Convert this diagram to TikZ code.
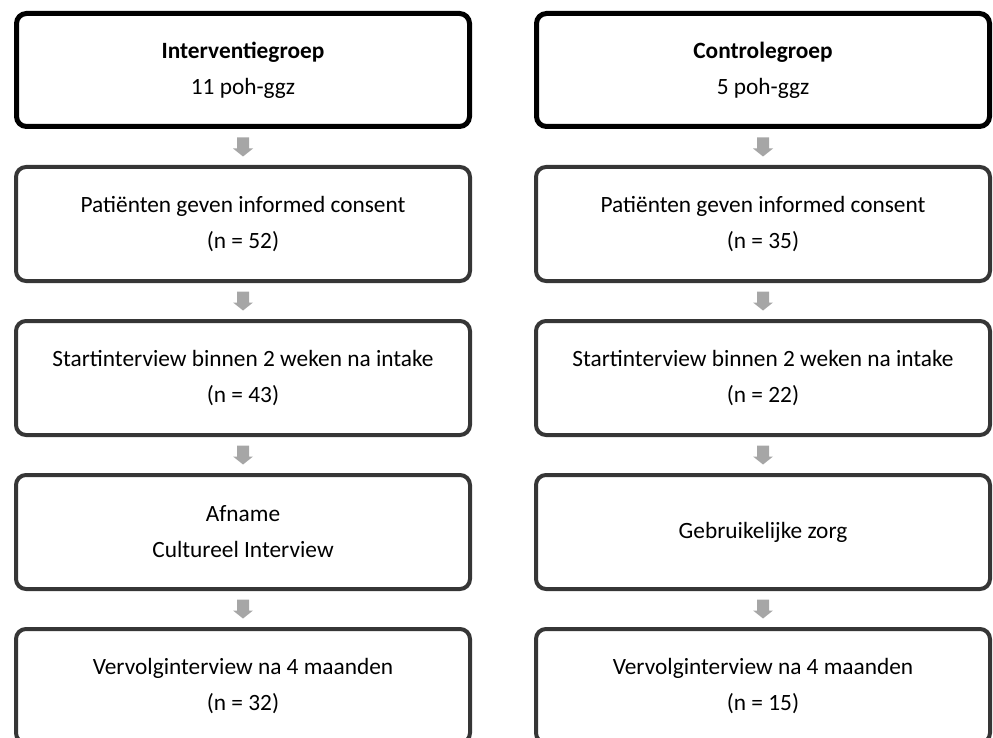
\documentclass[tikz,border=0pt]{standalone}
\usepackage{fontspec}
\setmainfont{Carlito}
\usetikzlibrary{calc}
\definecolor{boxgray}{HTML}{363636}
\definecolor{arrowgray}{HTML}{A6A6A6}
\tikzset{
  headbox/.style={draw=black, line width=3.75pt, rounded corners=7.5pt, fill=white,
    minimum width=339.75pt, minimum height=84.75pt, align=center, inner sep=0pt,
    font=\fontsize{17.5}{27}\selectfont},
  stepbox/.style={draw=boxgray, line width=3pt, rounded corners=7.5pt, fill=white,
    minimum width=340.5pt, minimum height=85.5pt, align=center, inner sep=0pt,
    font=\fontsize{17.5}{27}\selectfont},
}
\newcommand{\blockarrow}[2]{%
  \path (#1.south) -- (#2.north) coordinate[pos=0.5] (m#1);
  \fill[arrowgray] ($(m#1)+(-6,-9.5)$) -- ($(m#1)+(6,-9.5)$) -- ($(m#1)+(6,1.5)$)
    -- ($(m#1)+(10,1.5)$) -- ($(m#1)+(0,9.5)$) -- ($(m#1)+(-10,1.5)$)
    -- ($(m#1)+(-6,1.5)$) -- cycle;}
\begin{document}
\begin{tikzpicture}[x=0.75pt,y=-0.75pt]
\useasboundingbox (0,0) rectangle (993,738);
\clip (0,0) rectangle (993,738);
% left column
\node[headbox] (l1) at (243,70) {\textbf{Interventiegroep}\\11 poh-ggz};
\node[stepbox] (l2) at (243,224) {Patiënten geven informed consent\\(n = 52)};
\node[stepbox] (l3) at (243,378) {Startinterview binnen 2 weken na intake\\(n = 43)};
\node[stepbox] (l4) at (243,532) {Afname\\Cultureel Interview};
\node[stepbox] (l5) at (243,686) {Vervolginterview na 4 maanden\\(n = 32)};
% right column
\node[headbox] (r1) at (763,70) {\textbf{Controlegroep}\\5 poh-ggz};
\node[stepbox] (r2) at (763,224) {Patiënten geven informed consent\\(n = 35)};
\node[stepbox] (r3) at (763,378) {Startinterview binnen 2 weken na intake\\(n = 22)};
\node[stepbox] (r4) at (763,532) {Gebruikelijke zorg};
\node[stepbox] (r5) at (763,686) {Vervolginterview na 4 maanden\\(n = 15)};
% arrows
\blockarrow{l1}{l2}
\blockarrow{l2}{l3}
\blockarrow{l3}{l4}
\blockarrow{l4}{l5}
\blockarrow{r1}{r2}
\blockarrow{r2}{r3}
\blockarrow{r3}{r4}
\blockarrow{r4}{r5}
\end{tikzpicture}
\end{document}
